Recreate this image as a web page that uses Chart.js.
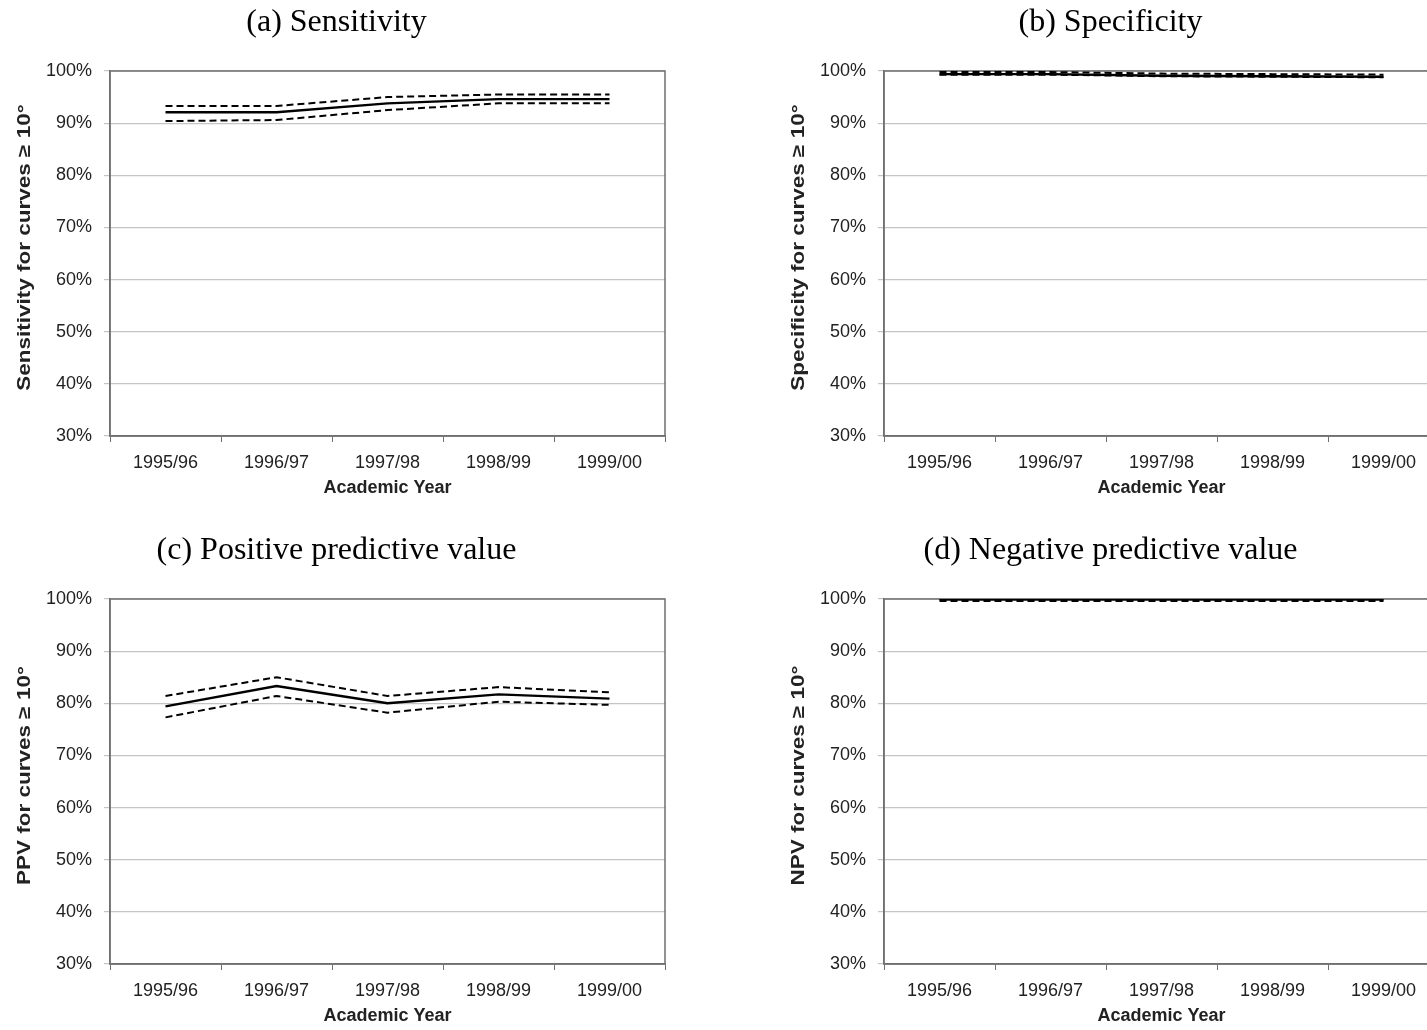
<!DOCTYPE html>
<html>
<head>
<meta charset="utf-8">
<script src="https://cdn.jsdelivr.net/npm/chart.js@4.4.1/dist/chart.umd.min.js"></script>
<style>
    html, body { margin:0; padding:0; background:#fff; }
    body { width:1427px; height:1030px; overflow:hidden; position:relative; }
    .panel { position:absolute; width:675px; height:510px; }
</style>
</head>
<body>

<div class="panel" style="left:0px;top:0px;"><canvas id="chartSens"></canvas></div>
<div class="panel" style="left:774px;top:0px;"><canvas id="chartSpec"></canvas></div>
<div class="panel" style="left:0px;top:528px;"><canvas id="chartPpv"></canvas></div>
<div class="panel" style="left:774px;top:528px;"><canvas id="chartNpv"></canvas></div>

<script>
/*
==========================================
DATA
==========================================
*/

const years = ["1995/96","1996/97","1997/98","1998/99","1999/00"];

// (a) sensitivity
const sensValue = [92.1, 92.1, 93.8, 94.6, 94.6];
const sensUpper = [93.3, 93.3, 95.0, 95.5, 95.5];
const sensLower = [90.4, 90.6, 92.5, 93.8, 93.8];

// (b) specificity
const specValue = [99.4, 99.4, 99.1, 99.0, 98.9];
const specUpper = [99.8, 99.8, 99.5, 99.4, 99.3];
const specLower = [99.3, 99.3, 99.0, 98.9, 98.8];

// (c) positive predictive value
const ppvValue = [79.4, 83.3, 80.0, 81.7, 80.9];
const ppvUpper = [81.4, 85.0, 81.4, 83.1, 82.1];
const ppvLower = [77.3, 81.4, 78.2, 80.3, 79.7];

// (d) negative predictive value
const npvValue = [99.9, 99.9, 99.9, 99.9, 99.9];
const npvUpper = [100, 100, 100, 100, 100];
const npvLower = [99.6, 99.6, 99.6, 99.6, 99.6];

const yTicks = [30, 40, 50, 60, 70, 80, 90, 100];

const SANS = "'Liberation Sans', Arial, sans-serif";

/*
==========================================
PLUGINS
==========================================
*/

// box round the plot area
const framePlugin = {
    id:"frame",
    beforeDatasetsDraw(chart){
        const a = chart.chartArea;
        const ctx = chart.ctx;
        ctx.save();
        ctx.strokeStyle = "#6f6f6f";
        ctx.lineWidth = 1.5;
        ctx.strokeRect(a.left, a.top, a.right - a.left, a.bottom - a.top);
        ctx.restore();
    }
};

// vertical axis title, a bit stretched like the scan
const yTitlePlugin = {
    id:"yTitle",
    afterDraw(chart, args, opts){
        const a = chart.chartArea;
        const ctx = chart.ctx;
        ctx.save();
        ctx.translate(25, (a.top + a.bottom) / 2 - 6);
        ctx.rotate(-Math.PI / 2);
        ctx.scale(1.25, 1);
        ctx.font = "bold 18px " + SANS;
        ctx.fillStyle = "#222";
        ctx.textAlign = "center";
        ctx.textBaseline = "middle";
        ctx.fillText(opts.text, 0, 0);
        ctx.restore();
    }
};

/*
==========================================
RENDER ONE PANEL
==========================================
*/

function renderPanel(id, title, yTitle, value, upper, lower){

    const canvas = document.getElementById(id);

    if(!canvas) return null;

    const dashed = {
        borderColor:"#000",
        borderWidth:2,
        borderDash:[7,4],
        pointRadius:0,
        fill:false,
        tension:0
    };

    return new Chart(canvas, {
        type:"line",
        data:{
            labels:years,
            datasets:[
                Object.assign({label:"upper", data:upper}, dashed),
                Object.assign({label:"lower", data:lower}, dashed),
                {
                    label:"value",
                    data:value,
                    borderColor:"#000",
                    borderWidth:2.4,
                    pointRadius:0,
                    fill:false,
                    tension:0
                }
            ]
        },
        options:{
            responsive:true,
            maintainAspectRatio:false,
            animation:false,
            layout:{
                padding:{left:8, right:10, top:0, bottom:0}
            },
            plugins:{
                legend:{display:false},
                tooltip:{enabled:false},
                title:{
                    display:true,
                    text:title,
                    color:"#000",
                    font:{family:"'Liberation Serif', 'Times New Roman', serif", size:32, weight:"normal"},
                    padding:{top:3, bottom:29.6}
                },
                yTitle:{text:yTitle}
            },
            scales:{
                x:{
                    type:"category",
                    offset:true,
                    grid:{
                        offset:true,
                        drawOnChartArea:false,
                        tickLength:6,
                        color:"#6f6f6f"
                    },
                    border:{color:"#6f6f6f", width:1.5},
                    ticks:{
                        color:"#222",
                        padding:10,
                        maxRotation:0,
                        font:{family:SANS, size:18}
                    },
                    title:{
                        display:true,
                        text:"Academic Year",
                        color:"#222",
                        padding:{top:2, bottom:11},
                        font:{family:SANS, size:18, weight:"bold"}
                    },
                    afterFit(scale){
                        scale.height = 74;
                    }
                },
                y:{
                    min:30,
                    max:100,
                    afterBuildTicks(scale){
                        scale.ticks = yTicks.map(v => ({value:v}));
                    },
                    grid:{
                        color:"#c4c4c4",
                        lineWidth:1.2,
                        tickLength:6
                    },
                    border:{color:"#6f6f6f", width:1.5},
                    ticks:{
                        color:"#222",
                        padding:12,
                        font:{family:SANS, size:18},
                        callback:v => v + "%"
                    },
                    afterFit(scale){
                        scale.width = 102;
                    }
                }
            }
        },
        plugins:[framePlugin, yTitlePlugin]
    });

}

/*
==========================================
RENDER GENERAL
==========================================
*/

renderPanel("chartSens", "(a) Sensitivity", "Sensitivity for curves \u2265 10\u00b0", sensValue, sensUpper, sensLower);
renderPanel("chartSpec", "(b) Specificity", "Specificity for curves \u2265 10\u00b0", specValue, specUpper, specLower);
renderPanel("chartPpv", "(c) Positive predictive value", "PPV for curves \u2265 10\u00b0", ppvValue, ppvUpper, ppvLower);
renderPanel("chartNpv", "(d) Negative predictive value", "NPV for curves \u2265 10\u00b0", npvValue, npvUpper, npvLower);
</script>
</body>
</html>
